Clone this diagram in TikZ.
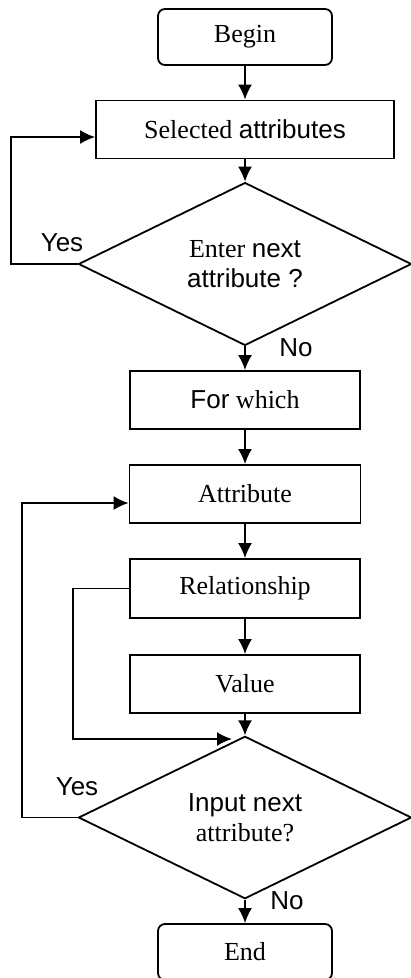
\documentclass[tikz,border=0pt]{standalone}
\usepackage{fontspec}
\setmainfont{Liberation Serif}
\setsansfont{Liberation Sans}
\usetikzlibrary{shapes.geometric,arrows.meta}

\begin{document}
\begin{tikzpicture}[x=1pt,y=-1pt,line width=1.8pt,
  font=\fontsize{26}{30}\selectfont,
  >={Latex[length=15pt,width=14pt]},
  termbox/.style={draw,rounded corners=7pt,minimum width=174pt,minimum height=56pt,inner sep=0pt},
  stepbox/.style={draw,minimum height=58pt,inner sep=0pt},
  askbox/.style={draw,diamond,minimum width=333pt,minimum height=138pt,inner sep=0pt,align=center},
  tag/.style={font=\fontsize{26}{30}\selectfont\sffamily}]
\useasboundingbox (0,0) rectangle (411,978);
% nodes
\node[termbox] (begin) at (245,37) {Begin};
\node[stepbox,minimum width=298pt] (sel) at (245,129.5) {Selected \textsf{attributes}};
\node[askbox] (ask1) at (245,264) {Enter \textsf{next}\\ \textsf{attribute ?}};
\node[stepbox,minimum width=230pt] (for) at (245,400) {\textsf{For} which};
\node[stepbox,minimum width=231pt] (attr) at (245,494) {Attribute};
\node[stepbox,minimum width=230pt,minimum height=59pt] (rel) at (245,588.5) {Relationship};
\node[stepbox,minimum width=230pt] (val) at (245,684) {Value};
\node[askbox,minimum height=139pt] (ask2) at (245,817.5) {\textsf{Input next}\\ attribute?};
\node[termbox] (end) at (245,952) {End};
% labels
\node[tag] (yes1) at (62,243) {Yes};
\node[tag] (no1) at (296,348) {No};
\node[tag] (yes2) at (77,787) {Yes};
\node[tag] (no2) at (287,901) {No};
% turning points
\coordinate (loop1) at (11,137);
\coordinate (loop2) at (22,503);
\coordinate (skip) at (73,739);
\coordinate (join) at (232,739);
% main flow
\draw[->] (begin) -- (sel);
\draw[->] (sel) -- (ask1);
\draw[->] (ask1) -- (for);
\draw[->] (for) -- (attr);
\draw[->] (attr) -- (rel);
\draw[->] (rel) -- (val);
\draw[->] (val) -- (ask2);
\draw[->] (ask2) -- (end);
% loops
\draw[->] (ask1.west) -| (loop1) -- (loop1 -| sel.west);
\draw[->] (ask2.west) -| (loop2) -- (loop2 -| attr.west);
\draw[->] (rel.west) -| (skip) -- (join);
\end{tikzpicture}
\end{document}
